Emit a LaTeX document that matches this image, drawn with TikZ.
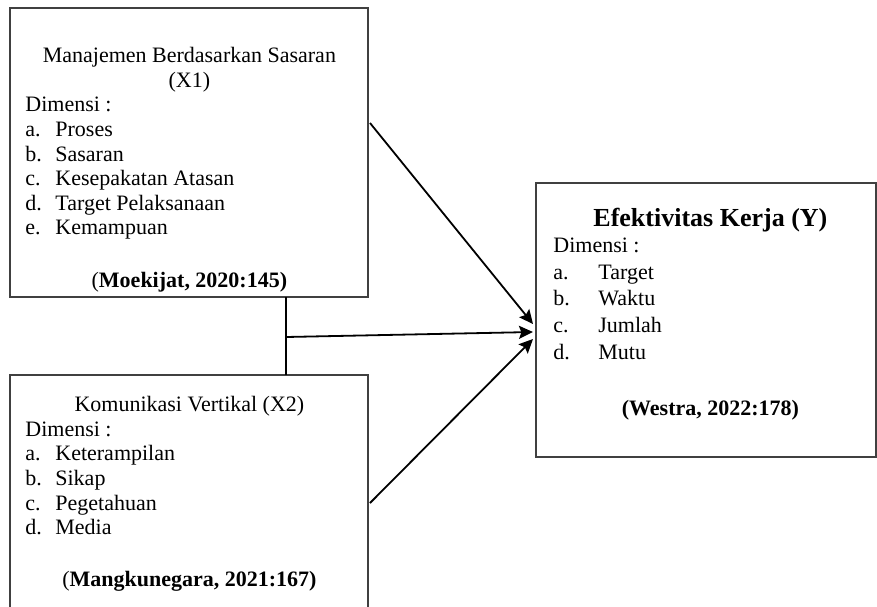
\documentclass[tikz,border=0pt]{standalone}
\usepackage{fontspec}
\setmainfont{Liberation Serif}
\usetikzlibrary{arrows.meta,positioning}

\begin{document}
\begin{tikzpicture}[
    x=0.5pt, y=-0.5pt,
    box/.style={rectangle, draw=black!75, line width=0.6pt, minimum width=179pt, inner sep=0pt, outer sep=0pt},
    txt/.style={anchor=base west, inner sep=0pt, font=\fontsize{11}{12.3}\selectfont},
    arrow/.style={-{Stealth[length=7pt,width=6.5pt,inset=1.2pt]}, line width=0.9pt}
]

\useasboundingbox (0,0) rectangle (877,606);

% Variabel bebas
\node[box, minimum height=144.5pt, anchor=north west] (x1) at (10,8) {};
\node[box, minimum height=118.5pt, below=39pt of x1] (x2) {};

% Variabel terikat
\node[box, minimum width=170pt, minimum height=137pt, anchor=north west] (y) at (536,183) {};

% Isi kotak
\node[txt] (x1-text) at (25,62.7) {\begin{tabular}[t]{@{}p{15pt}@{}p{149pt}@{}}
\multicolumn{2}{@{}c@{}}{Manajemen Berdasarkan Sasaran}\\
\multicolumn{2}{@{}c@{}}{(X1)}\\
\multicolumn{2}{@{}l@{}}{Dimensi :}\\
a. & Proses\\
b. & Sasaran\\
c. & Kesepakatan Atasan\\
d. & Target Pelaksanaan\\
e. & Kemampuan\\[1.5pt]
\\
\multicolumn{2}{@{}c@{}}{(\textbf{Moekijat, 2020:145)}}
\end{tabular}};

\node[txt] (x2-text) at (25,411.7) {\begin{tabular}[t]{@{}p{15pt}@{}p{149pt}@{}}
\multicolumn{2}{@{}c@{}}{Komunikasi Vertikal (X2)}\\
\multicolumn{2}{@{}l@{}}{Dimensi :}\\
a. & Keterampilan\\
b. & Sikap\\
c. & Pegetahuan\\
d. & Media\\[1.5pt]
\\
\multicolumn{2}{@{}c@{}}{(\textbf{Mangkunegara, 2021:167)}}
\end{tabular}};

\node[txt, font=\fontsize{11}{13.3}\selectfont] (y-text) at (553,226) {\begin{tabular}[t]{@{}p{22.5pt}@{}p{134.5pt}@{}}
\multicolumn{2}{@{}c@{}}{\fontsize{13}{15}\selectfont\bfseries Efektivitas Kerja (Y)}\\
\multicolumn{2}{@{}l@{}}{Dimensi :}\\
a. & Target\\
b. & Waktu\\
c. & Jumlah\\
d. & Mutu\\[1.5pt]
\\
\multicolumn{2}{@{}c@{}}{\textbf{(Westra, 2022:178)}}
\end{tabular}};

% Penghubung
\coordinate (join) at (286,337);
\coordinate (x1-out) at (370,123);
\coordinate (x2-out) at (370,503);
\coordinate (y-in1) at (533,324);
\coordinate (y-in2) at (533,332);
\coordinate (y-in3) at (533,339);

\draw[line width=0.6pt] (x1.south -| join) -- (x2.north -| join);
\draw[arrow] (x1-out) -- (y-in1);
\draw[arrow] (join) -- (y-in2);
\draw[arrow] (x2-out) -- (y-in3);

\end{tikzpicture}
\end{document}
